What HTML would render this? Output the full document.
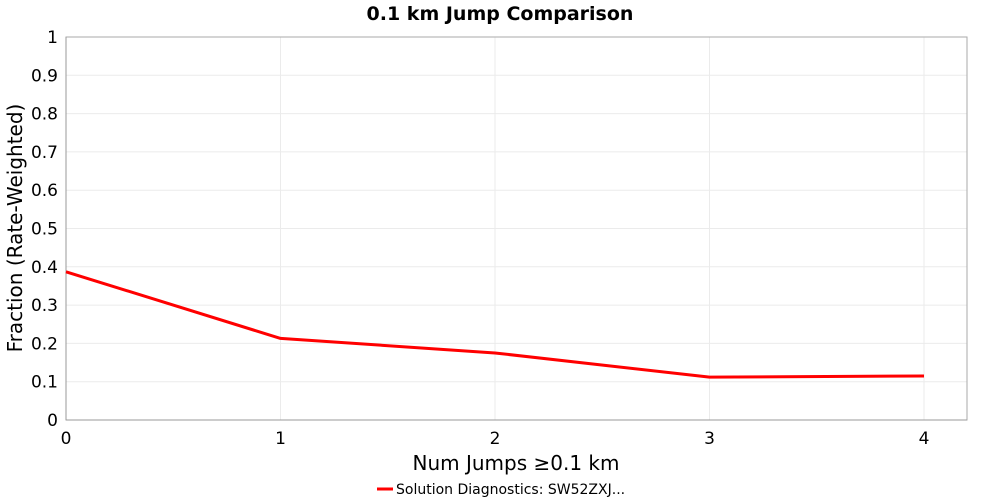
<!DOCTYPE html>
<html><head><meta charset="utf-8"><style>
body{margin:0;background:#fff;}
svg{display:block;font-family:"DejaVu Sans","Liberation Sans",sans-serif;}
</style></head><body>
<svg id="chart" width="1000" height="500">
<text x="500" y="20" text-anchor="middle" font-size="19" font-weight="bold">0.1 km Jump Comparison</text>
<g id="grid"></g>
<rect x="66" y="37" width="901" height="383" fill="none" stroke="#aaa"/>
<g id="axes"></g>
<path id="line" fill="none" stroke="#ff0000" stroke-width="3" stroke-linejoin="round"/>
<text x="516" y="470" text-anchor="middle" font-size="20">Num Jumps ≥0.1 km</text>
<text transform="translate(22,228) rotate(-90)" text-anchor="middle" font-size="20">Fraction (Rate-Weighted)</text>
<g>
<line x1="377" y1="489" x2="393" y2="489" stroke="#ff0000" stroke-width="3"/>
<text x="396" y="494" font-size="14">Solution Diagnostics: SW52ZXJ...</text>
</g>
</svg>
<script>
const categories=[0,1,2,3,4];
const values=[0.387,0.213,0.175,0.112,0.115];
const yTicks=["0","0.1","0.2","0.3","0.4","0.5","0.6","0.7","0.8","0.9","1"];
const xTicks=["0","1","2","3","4"];
const NS="http://www.w3.org/2000/svg";
const X=v=>66+v*214.5, Y=v=>420-v*383;
const grid=document.getElementById('grid'), axes=document.getElementById('axes');
function mk(tag,a,p){const e=document.createElementNS(NS,tag);for(const k in a)e.setAttribute(k,a[k]);p.appendChild(e);return e;}
yTicks.forEach(t=>{const v=parseFloat(t);
 if(v>0){const g=mk('line',{x1:66,x2:967,y1:Y(v),y2:Y(v),stroke:'#ebebeb'},grid);
 
 }
 const l=mk('text',{x:58,y:Y(v)+6,'text-anchor':'end','font-size':17},axes);l.textContent=t;
 
 });
xTicks.forEach(t=>{const v=parseFloat(t);
 if(v>0){const g=mk('line',{x1:X(v),x2:X(v),y1:37,y2:420,stroke:'#ebebeb'},grid);
 
 }
 const l=mk('text',{x:X(v),y:444,'text-anchor':'middle','font-size':17},axes);l.textContent=t;
 
 });
mk('line',{x1:66,x2:66,y1:37,y2:420,stroke:'#999'},axes);
mk('line',{x1:66,x2:967,y1:420,y2:420,stroke:'#999'},axes);
document.getElementById('line').setAttribute('d',categories.map((c,i)=>(i?'L':'M')+X(c)+','+Y(values[i])).join(''));
</script>
</body></html>
